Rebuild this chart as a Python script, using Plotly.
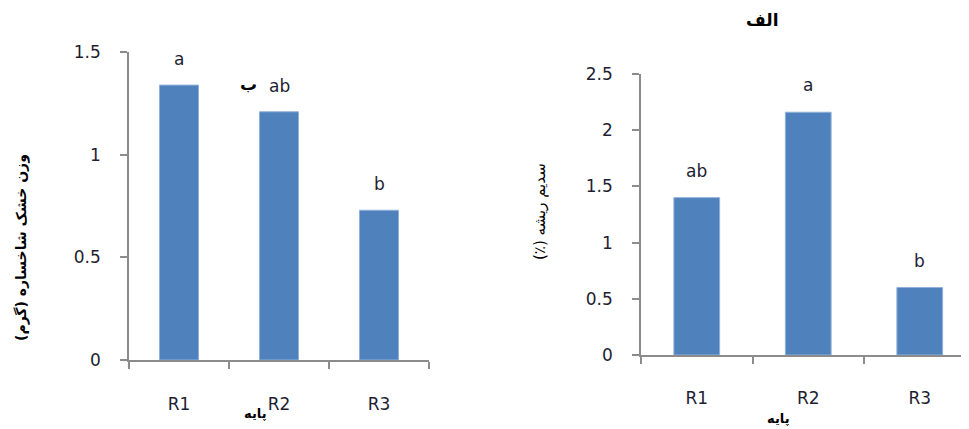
import plotly.graph_objects as go

categories = ["R1", "R2", "R3"]
shoot_dry_weight = [1.34, 1.21, 0.73]
shoot_letters = ["a", "ab", "b"]
root_sodium = [1.40, 2.16, 0.60]
root_letters = ["ab", "a", "b"]
left_yticks = [0, 0.5, 1, 1.5]
right_yticks = [0, 0.5, 1, 1.5, 2, 2.5]

BAR = "#4F81BD"
AX = "#8c8c8c"
TXT = "#1e1e32"
FONT = "DejaVu Sans, Verdana, sans-serif"
FA = "DejaVu Sans, sans-serif"
RLM = "\u200f"

# page body has an 8px margin; figure fills the rest of the 969x429 window
OFF = 8
W, H = 969 - OFF, 429 - OFF


def px(x):
    return (x - OFF) / W


def py(y):
    return 1 - (y - OFF) / H


fig = go.Figure()
fig.add_trace(go.Bar(x=categories, y=shoot_dry_weight, width=0.39,
                     marker=dict(color=BAR, line=dict(color="#8fb0d8", width=1)),
                     xaxis="x", yaxis="y", showlegend=False))
fig.add_trace(go.Bar(x=categories, y=root_sodium, width=0.41,
                     marker=dict(color=BAR, line=dict(color="#8fb0d8", width=1)),
                     xaxis="x2", yaxis="y2", showlegend=False))

annotations = []
for c, v, t in zip(categories, shoot_dry_weight, shoot_letters):
    annotations.append(dict(x=c, y=v, xref="x", yref="y", text=t, showarrow=False,
                            xanchor="center", yanchor="bottom", yshift=14,
                            font=dict(size=17, color=TXT, family=FONT)))
for c, v, t in zip(categories, root_sodium, root_letters):
    annotations.append(dict(x=c, y=v, xref="x2", yref="y2", text=t, showarrow=False,
                            xanchor="center", yanchor="bottom", yshift=15,
                            font=dict(size=17, color=TXT, family=FONT)))


def label(x, y, text, size, angle=0):
    return dict(x=px(x), y=py(y), xref="paper", yref="paper", text=text, showarrow=False,
                xanchor="center", yanchor="middle", textangle=angle,
                font=dict(size=size, color="black", family=FA))


annotations += [
    label(248, 84, "<b>ب</b>", 17),
    label(762, 20, "<b>الف</b>", 17),
    label(21, 248, "<b>وزن خشک شاخساره (گرم)</b>", 14, -90),
    label(540, 212, RLM + "سدیم ریشه (٪)" + RLM, 15, -90),
    label(255, 413, "<b>پایه</b>", 13),
    label(778, 418, "<b>پایه</b>", 13),
]

axis_common = dict(showgrid=False, zeroline=False, showline=True, linecolor=AX, linewidth=1.5,
                   ticks="outside", tickcolor=AX, tickwidth=1.5, ticklen=7, automargin=False,
                   tickfont=dict(size=17, color=TXT, family=FONT))

fig.update_layout(
    width=W, height=H, margin=dict(l=0, r=0, t=0, b=0, pad=0),
    paper_bgcolor="white", plot_bgcolor="white",
    xaxis=dict(domain=[px(129), px(429)], anchor="y", range=[-0.5, 2.5],
               tickson="boundaries", ticklabelstandoff=28, **axis_common),
    yaxis=dict(domain=[py(360), py(52.3)], anchor="x", range=[0, 1.5],
               tickvals=left_yticks, ticktext=[f"{v:g}" for v in left_yticks],
               ticklabelstandoff=16, **axis_common),
    xaxis2=dict(domain=[px(641), 1.0], anchor="y2",
                range=[-0.5, -0.5 + (969 - 641) / 111.5],
                tickson="boundaries", ticklabelstandoff=27, **axis_common),
    yaxis2=dict(domain=[py(355), py(74)], anchor="x2", range=[0, 2.5],
                tickvals=right_yticks, ticktext=[f"{v:g}" for v in right_yticks],
                ticklabelstandoff=16, **axis_common),
    annotations=annotations,
)

fig.write_html("out.html")
